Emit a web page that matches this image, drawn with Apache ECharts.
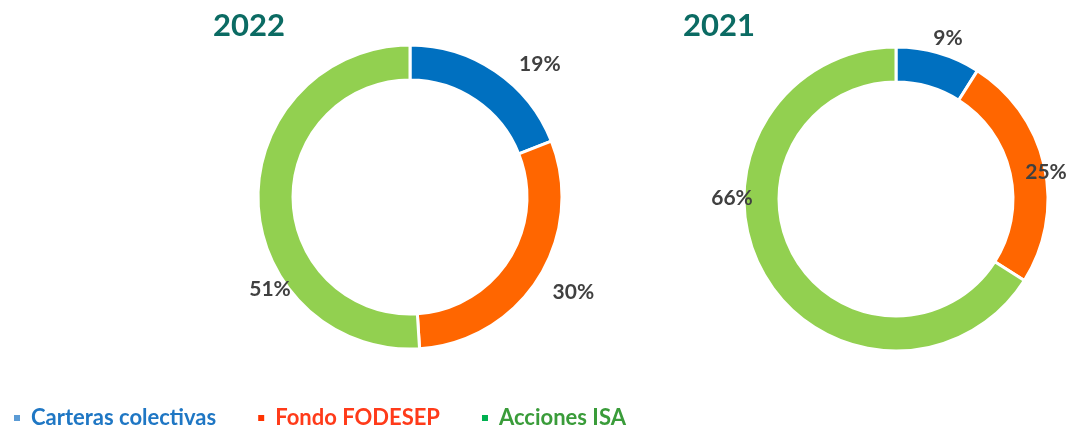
<!DOCTYPE html>
<html>
<head>
<meta charset="utf-8">
<script src="https://cdn.jsdelivr.net/npm/echarts@6/dist/echarts.min.js"></script>
<style>
html,body{margin:0;padding:0;background:#fff;}
#chart{width:1070px;height:430px;}
</style>
</head>
<body>
<div id="chart"></div>
<script>
const categories = ['Carteras colectivas', 'Fondo FODESEP', 'Acciones ISA'];
const years = ['2022', '2021'];
const values2022 = [19, 30, 51];
const values2021 = [9, 25, 66];

const sliceColors = ['#0070c0', '#ff6600', '#92d050'];
const legendMarkerColors = ['#5b9bd5', '#ff3300', '#00b050'];
const legendTextColors = ['#1f77c4', '#ff3b1a', '#3a9c3a'];

// layout only: pie centres and "best fit" label placement (angle from 12 o'clock, distance from centre)
const pieCenters = [[410, 197], [896, 199]];
const labelPlacement = [
  [[44.3, 186], [120.2, 189], [236.7, 167.5]],
  [[17.9, 169], [79.8, 152.4], [270.3, 164]]
];

const FONT = 'Lato';

function pieSeries(idx, values) {
  const c = pieCenters[idx];
  return {
    type: 'pie',
    name: years[idx],
    center: c,
    radius: [117, 152],
    startAngle: 90,
    clockwise: true,
    avoidLabelOverlap: false,
    itemStyle: { borderColor: '#ffffff', borderWidth: 3 },
    label: {
      show: true,
      position: 'outside',
      formatter: '{c}%',
      color: '#404040',
      fontFamily: FONT,
      fontWeight: 'bold',
      fontSize: 21
    },
    labelLine: { show: false },
    labelLayout: function (p) {
      const pl = labelPlacement[idx][p.dataIndex];
      const a = pl[0] * Math.PI / 180;
      return {
        x: c[0] + pl[1] * Math.sin(a),
        y: c[1] - pl[1] * Math.cos(a),
        align: 'center',
        verticalAlign: 'middle'
      };
    },
    emphasis: { disabled: true },
    data: values.map((v, i) => ({ name: categories[i], value: v }))
  };
}

const chart = echarts.init(document.getElementById('chart'), null, { renderer: 'canvas' });
chart.setOption({
  animation: false,
  color: sliceColors,
  title: [
    { text: years[0], left: 244, top: 5, textAlign: 'center',
      textStyle: { fontFamily: FONT, fontWeight: 'bold', fontSize: 31, color: '#0b6b63' } },
    { text: years[1], left: 714, top: 5, textAlign: 'center',
      textStyle: { fontFamily: FONT, fontWeight: 'bold', fontSize: 31, color: '#0b6b63' } }
  ],
  legend: {
    left: 7,
    top: 402,
    itemWidth: 8,
    itemHeight: 8,
    itemGap: 40,
    icon: 'rect',
    textStyle: { fontFamily: FONT, fontWeight: 'bold', fontSize: 22, padding: [0, 0, 0, 5] },
    data: categories.map((c, i) => ({
      name: c,
      itemStyle: { color: legendMarkerColors[i] },
      textStyle: { color: legendTextColors[i] }
    }))
  },
  series: [
    pieSeries(0, values2022),
    pieSeries(1, values2021)
  ]
});
</script>
</body>
</html>
